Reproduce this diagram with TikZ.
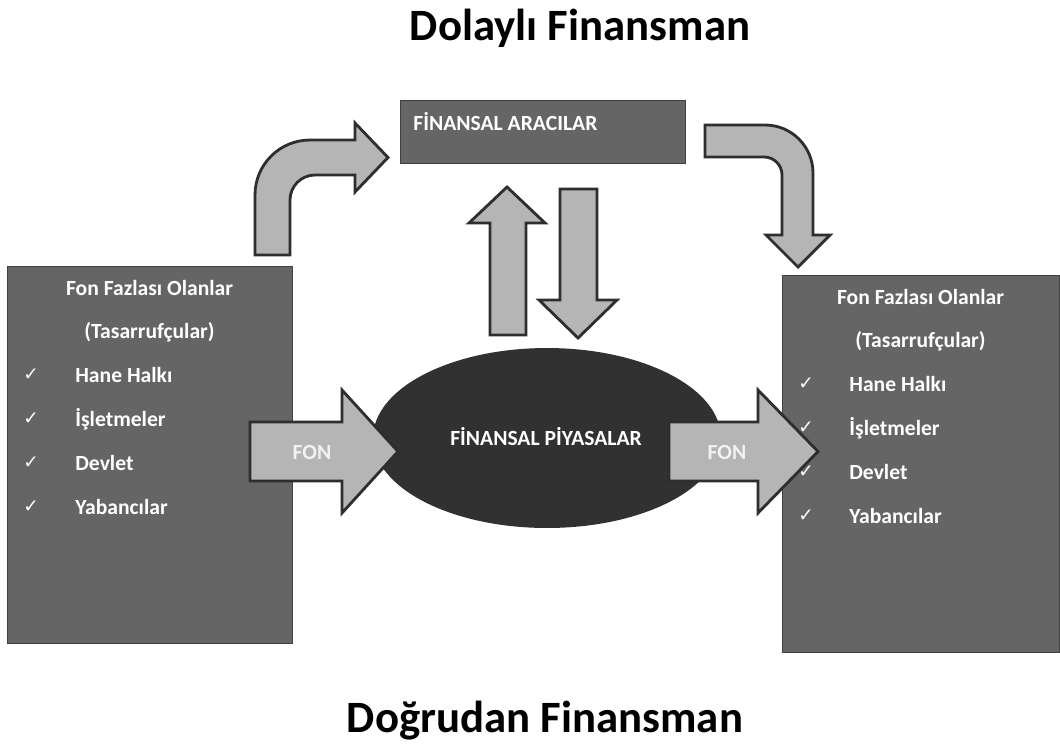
\documentclass[tikz,border=0pt]{standalone}
\usepackage{fontspec}
\setmainfont{Carlito}
\newfontfamily\symfont{DejaVu Sans}
\usetikzlibrary{shapes.geometric}
\definecolor{boxgray}{HTML}{656565}
\definecolor{boxedge}{HTML}{404040}
\definecolor{ellgray}{HTML}{313131}
\definecolor{arrfill}{HTML}{B5B5B5}
\definecolor{arredge}{HTML}{2E2E2E}
\definecolor{fontxt}{HTML}{F2F2F2}
\tikzset{
  panel/.style={draw=boxedge, line width=0.6pt, fill=boxgray, inner sep=0pt},
  blockarrow/.style={draw=arredge, fill=arrfill, line width=1.6pt, line join=miter},
  inner/.style={font=\fontsize{12.3}{14}\selectfont\bfseries, text=white, inner sep=0pt},
  chk/.style={font=\symfont\fontsize{10.5}{12}\selectfont, text=white, inner sep=0pt},
  titletxt/.style={font=\fontsize{25.5}{30}\selectfont\bfseries, text=black, inner sep=0pt}
}
\begin{document}
\begin{tikzpicture}[x=0.02cm,y=-0.02cm]
\useasboundingbox (0,0) rectangle (1060,751);
\fill[white] (0,0) rectangle (1060,751);
% titles
\node[titletxt, anchor=base] (t1) at (580,40) {Dolaylı Finansman};
\node[titletxt, anchor=base] (t2) at (545,732) {Doğrudan Finansman};
% boxes
\node[panel, anchor=north west, minimum width=5.7cm, minimum height=7.54cm] (lbox) at (7,266) {};
\node[panel, anchor=north west, minimum width=5.54cm, minimum height=7.54cm] (rbox) at (782,275) {};
\node[panel, anchor=north west, minimum width=5.7cm, minimum height=1.26cm] (arac) at (400,100) {};
\node[inner, anchor=base west] (aractxt) at (413,130) {FİNANSAL ARACILAR};
% ellipse
\node[ellipse, fill=ellgray, minimum width=6.96cm, minimum height=3.6cm, inner sep=0pt] (piy) at (547,438) {};
\node[inner, anchor=base] (piytxt) at (546,445) {FİNANSAL PİYASALAR};
% left box text
\node[inner, anchor=base] (l1) at (149.5,295) {Fon Fazlası Olanlar};
\node[inner, anchor=base] (l2) at (149.5,338) {(Tasarrufçular)};
\foreach \y/\t [count=\i] in {382/Hane Halkı, 426/İşletmeler, 470/Devlet, 514/Yabancılar}{
  \node[chk, anchor=base] (lc\i) at (31,\y-2) {✓};
  \node[inner, anchor=base west] (li\i) at (75,\y) {\t};
}
% right box text
\node[inner, anchor=base] (r1) at (920.5,304) {Fon Fazlası Olanlar};
\node[inner, anchor=base] (r2) at (920.5,347) {(Tasarrufçular)};
\foreach \y/\t [count=\i] in {391/Hane Halkı, 435/İşletmeler, 479/Devlet, 523/Yabancılar}{
  \node[chk, anchor=base] (rc\i) at (806,\y-2) {✓};
  \node[inner, anchor=base west] (ri\i) at (849,\y) {\t};
}
% bent arrow left (up then right)
\draw[blockarrow] (255,255) -- (255,195) .. controls (255,164.6) and (279.6,140) .. (310,140)
  -- (355,140) -- (355,123) -- (388,157.5) -- (355,192) -- (355,175) -- (315,175)
  .. controls (301.2,175) and (290,186.2) .. (290,200) -- (290,255) -- cycle;
% bent arrow right (right then down)
\draw[blockarrow] (705,125) -- (765,125) .. controls (791.5,125) and (813,146.5) .. (813,173)
  -- (813,235) -- (830,235) -- (798,267) -- (766,235) -- (782,235) -- (782,175)
  .. controls (782,165) and (774,157) .. (764,157) -- (705,157) -- cycle;
% up / down arrows
\draw[blockarrow] (490,335) -- (490,223) -- (469,223) -- (507,187) -- (545,223) -- (526,223) -- (526,335) -- cycle;
\draw[blockarrow] (560,189) -- (597,189) -- (597,300) -- (617,300) -- (578,338) -- (539,300) -- (560,300) -- cycle;
% FON arrows
\draw[blockarrow] (250,422) -- (342,422) -- (342,390) -- (398,451.5) -- (342,513) -- (342,481) -- (250,481) -- cycle;
\draw[blockarrow] (669,422) -- (758,422) -- (758,390) -- (818,451.5) -- (758,513) -- (758,481) -- (669,481) -- cycle;
\node[inner, text=fontxt, anchor=base] (fon1) at (312,459) {FON};
\node[inner, text=fontxt, anchor=base] (fon2) at (727,459) {FON};
\end{tikzpicture}
\end{document}
